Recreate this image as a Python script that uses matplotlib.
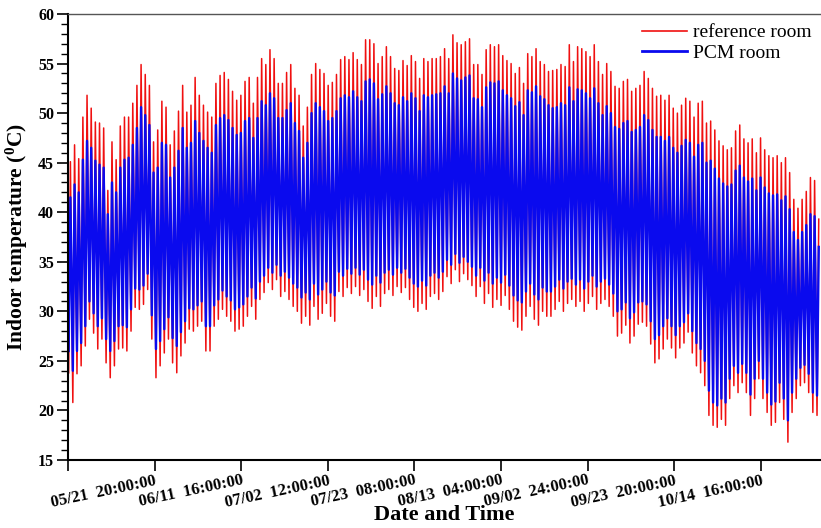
import matplotlib.pyplot as plt
import numpy as np

# daily peaks / troughs (deg C), one value per day from 05/01
ref_max = [45.1, 46.8, 45.4, 49.6, 51.8, 50.5, 49.1, 49.0, 48.5, 42.2,
           47.1, 45.3, 48.7, 49.6, 49.6, 51.0, 52.8, 54.9, 53.9, 52.8,
           47.1, 48.3, 51.2, 50.6, 46.8, 48.2, 50.2, 52.8, 50.1, 50.8,
           53.6, 51.8, 50.8, 50.1, 49.6, 53.0, 53.8, 54.1, 53.4, 52.2,
           51.3, 51.8, 53.2, 53.6, 51.0, 53.6, 55.5, 54.9, 56.4, 55.5,
           53.0,
           53.0, 54.1, 54.9, 52.5, 51.8, 48.7, 50.6, 53.9, 55.0, 54.4,
           54.0, 52.8, 53.1, 53.9, 55.4, 55.7, 55.4, 56.1, 55.4, 54.9,
           57.4, 57.4, 57.0, 55.0, 55.7, 56.7, 55.7, 54.5, 54.3, 55.3,
           54.8, 55.8, 55.2, 53.5, 55.5, 55.2, 55.5, 55.5, 55.7, 56.5,
           55.5, 57.9, 57.1, 56.9, 57.2, 57.5, 54.9, 54.9, 53.9, 56.4,
           56.9, 56.7, 56.9, 55.8, 55.3, 55.0, 54.0, 54.6, 53.0, 56.0,
           55.7, 56.5, 55.2, 54.9, 54.2,
           54.3, 54.4, 54.9, 54.7, 56.9, 55.2, 56.7, 56.5, 56.2, 55.7,
           56.9, 55.2, 53.9, 55.0, 54.2, 52.7, 52.5, 53.2, 53.4, 52.2,
           52.5, 52.8, 54.2, 53.5, 52.5, 51.7, 51.8, 51.3, 51.8, 50.5,
           50.0, 50.8, 51.5, 51.2, 49.6, 51.0, 51.2, 49.0, 49.2, 48.3,
           47.2, 46.7, 46.3, 46.5, 48.2, 48.8, 47.4, 47.0, 47.4, 46.0,
           47.5, 46.3, 45.7, 45.5, 45.7, 45.0, 45.5, 44.0, 41.3, 40.4,
           41.3, 42.1, 43.5, 43.2, 39.3]

ref_min = [23.8, 20.8, 23.7, 24.5, 26.5, 29.2, 27.8, 26.2, 27.2, 24.8,
           23.3, 24.5, 26.2, 26.3, 26.0, 28.0, 30.4, 30.2, 30.7, 32.2,
           27.2, 23.3, 24.5, 25.8, 27.2, 24.8, 23.8, 25.5, 26.8, 28.2,
           28.0, 28.5, 29.0, 26.0, 26.0, 28.5, 29.2, 30.2, 29.5, 29.0,
           28.0, 28.2, 28.5, 29.5, 30.5, 29.2, 31.2, 31.9, 32.9, 32.2,
           33.2,
           31.5, 32.0, 31.2, 30.5, 30.0, 28.8, 29.5, 28.6, 30.5, 29.2,
           29.8, 30.8, 29.5, 29.0, 32.0, 31.5, 32.4, 31.8, 32.5, 31.6,
           32.2, 31.0, 30.3, 31.5, 30.5, 31.8, 32.2, 31.6, 32.5, 31.9,
           32.4, 31.2, 30.4, 30.0, 30.8, 30.2, 31.5, 31.8, 31.2, 32.0,
           33.5, 32.8, 34.2, 33.0, 33.8, 33.2, 32.6, 31.5, 32.5, 30.8,
           31.8, 30.4, 31.2, 30.6, 31.6, 30.2, 29.0, 28.4, 28.1, 29.5,
           30.5, 29.2, 28.6, 30.0, 29.5,
           29.5, 30.2, 31.0, 30.0, 30.8, 31.2, 30.5, 31.0, 30.0, 30.8,
           31.5, 30.2, 30.8, 31.2, 30.5, 29.5, 27.5, 27.8, 28.6, 26.8,
           27.5, 28.7, 28.9, 28.5, 26.7, 24.8, 25.2, 26.2, 27.2, 26.3,
           25.3, 26.3, 26.8, 27.9, 25.8, 24.5, 23.8, 22.5, 19.5, 18.5,
           18.3, 19.1, 18.5, 21.2, 22.5, 21.8, 22.8, 21.8, 19.5, 21.2,
           23.2, 21.2, 19.8, 18.5, 18.8, 20.8, 19.1, 16.8, 19.8, 21.2,
           22.5, 22.8, 21.8, 19.8, 19.5]

pcm_max = [41.5, 42.8, 42.0, 45.3, 47.2, 46.5, 45.2, 44.8, 44.5, 39.8,
           43.0, 42.0, 44.5, 45.3, 45.5, 46.8, 48.5, 50.6, 49.8, 48.8,
           44.0, 44.5, 47.0, 46.8, 43.5, 44.5, 46.2, 48.5, 46.5, 47.0,
           49.2, 48.0, 47.2, 46.5, 46.0, 48.8, 49.5, 49.8, 49.3, 48.5,
           47.8, 48.0, 49.2, 49.5, 47.5, 49.5, 51.2, 50.8, 52.0, 51.5,
           49.5,
           49.5, 50.3, 51.0, 49.0, 48.2, 45.5, 47.0, 50.0, 51.0, 50.6,
           50.2, 49.2, 49.5, 50.2, 51.5, 51.8, 51.6, 52.2, 51.6, 51.2,
           53.2, 53.4, 53.0, 51.4, 51.9, 52.7, 52.0, 51.0, 50.8, 51.6,
           51.2, 52.0, 51.5, 50.2, 51.8, 51.6, 51.8, 51.9, 52.0, 52.7,
           52.0, 54.0, 53.5, 53.3, 53.6, 53.8, 51.5, 51.4, 50.6, 52.6,
           53.1, 53.0, 53.2, 52.3, 51.8, 51.5, 50.7, 51.1, 49.8, 52.3,
           52.1, 52.7, 51.7, 51.4, 50.8,
           50.5, 50.6, 51.0, 50.8, 52.6, 51.2, 52.4, 52.3, 52.0, 51.5,
           52.5, 51.0, 49.8, 50.7, 50.0, 48.6, 48.4, 49.0, 49.2, 48.1,
           48.3, 48.6, 49.8, 49.3, 48.3, 47.6, 47.6, 47.2, 47.6, 46.5,
           46.0, 46.7, 47.3, 47.0, 45.6, 46.8, 47.0, 45.0, 45.2, 44.4,
           43.4, 42.9, 42.6, 42.8, 44.2, 44.7, 43.5, 43.1, 43.4, 42.2,
           43.5, 42.5, 41.9, 41.7, 41.8, 41.2, 41.6, 40.3, 38.0, 37.2,
           38.0, 38.7, 39.8, 39.6, 36.5]

pcm_min = [26.0, 24.0, 26.0, 26.8, 28.5, 31.0, 29.8, 28.5, 29.3, 27.2,
           26.0, 27.0, 28.5, 28.6, 28.4, 30.2, 32.3, 32.2, 32.6, 33.8,
           29.6, 26.2, 27.0, 28.2, 29.4, 27.3, 26.5, 27.9, 29.0, 30.3,
           30.2, 30.6, 31.0, 28.5, 28.5, 30.6, 31.2, 32.1, 31.5, 31.1,
           30.2, 30.4, 30.7, 31.5, 32.4, 31.3, 33.0, 33.6, 34.4, 33.9,
           34.7,
           33.6, 34.0, 33.4, 32.8, 32.4, 31.4, 31.9, 31.2, 32.8, 31.7,
           32.2, 33.0, 31.9, 31.6, 34.0, 33.6, 34.3, 33.8, 34.4, 33.7,
           34.2, 33.2, 32.7, 33.6, 32.9, 33.9, 34.2, 33.7, 34.4, 33.9,
           34.3, 33.4, 32.8, 32.5, 33.1, 32.6, 33.6, 33.9, 33.4, 34.0,
           35.2, 34.7, 35.8, 34.9, 35.5, 35.0, 34.5, 33.6, 34.4, 33.1,
           33.9, 32.8, 33.4, 32.9, 33.7, 32.6, 31.6, 31.1, 30.9, 32.0,
           32.8, 31.7, 31.2, 32.4, 32.0,
           32.0, 32.5, 33.2, 32.3, 33.0, 33.3, 32.7, 33.2, 32.3, 33.0,
           33.6, 32.5, 33.0, 33.3, 32.7, 31.8, 30.0, 30.2, 30.9, 29.3,
           29.9, 30.9, 31.0, 30.7, 29.0, 27.2, 27.6, 28.5, 29.3, 28.5,
           27.6, 28.5, 28.9, 29.8, 28.0, 26.8, 26.2, 25.0, 22.0, 20.8,
           20.5, 21.2, 20.8, 23.2, 24.5, 23.8, 24.7, 23.8, 21.6, 23.2,
           25.0, 23.2, 21.8, 20.6, 20.9, 22.8, 21.2, 19.0, 21.8, 23.2,
           24.3, 24.6, 23.7, 21.8, 21.5]

tick_hours = [0, 500, 1000, 1500, 2000, 2500, 3000, 3500, 4000]
tick_labels = ["", "05/21  20:00:00", "06/11  16:00:00", "07/02  12:00:00",
               "07/23  08:00:00", "08/13  04:00:00", "09/02  24:00:00",
               "09/23  20:00:00", "10/14  16:00:00"]

plt.rcParams['font.family'] = ['Liberation Serif', 'DejaVu Serif']
plt.rcParams['mathtext.fontset'] = 'custom'
plt.rcParams['mathtext.rm'] = 'Liberation Serif:bold'
plt.rcParams['mathtext.bf'] = 'Liberation Serif:bold'
plt.rcParams['mathtext.it'] = 'Liberation Serif:bold:italic'


def daily_path(lows, highs):
    # trough early morning, peak mid afternoon of each day
    start = np.arange(len(lows)) * 24
    x = np.column_stack([start + 4, start + 14]).ravel()
    y = np.column_stack([lows, highs]).ravel()
    return x, y


fig = plt.figure(figsize=(8.21, 5.28), dpi=100)
ax = fig.add_axes([0.0828, 0.1288, 0.9172, 0.8447])

x, y = daily_path(ref_min, ref_max)
ax.plot(x, y, color='#f01010', lw=1.1, label='reference room')
x, y = daily_path(pcm_min, pcm_max)
ax.plot(x, y, color='#0a0aee', lw=1.7, label='PCM room')

ax.set_xlim(0, 4347)
ax.set_ylim(15, 60)
ax.set_xticks(tick_hours)
ax.set_xticklabels(tick_labels, rotation=12, ha='right', va='top',
                   rotation_mode='anchor', fontsize=12, fontweight='bold')
ax.set_yticks(range(15, 61, 5))
ax.set_yticks(range(15, 61), minor=True)
for lab in ax.get_yticklabels():
    lab.set_fontsize(11.5)
    lab.set_fontweight('bold')

ax.tick_params(axis='x', direction='out', length=8, width=1.2, pad=1)
ax.tick_params(axis='y', which='major', direction='out', length=8, width=1.2, pad=2)
ax.tick_params(axis='y', which='minor', direction='out', length=5, width=1.0)

ax.spines['right'].set_visible(False)
ax.spines['top'].set_color('#555555')
ax.spines['top'].set_linewidth(1.0)
ax.spines['left'].set_linewidth(1.5)
ax.spines['bottom'].set_linewidth(1.5)

ax.set_xlabel('Date and Time', fontsize=16, fontweight='bold')
ax.xaxis.set_label_coords(0.5, -0.1)
ax.set_ylabel(r'Indoor temperature ($^{0}$C)', fontsize=15.5,
              fontweight='bold', labelpad=6)

leg = ax.legend(loc='upper right', frameon=False, fontsize=14,
                handlelength=2.3, handletextpad=0.3, labelspacing=0.15,
                borderaxespad=0.1)
leg.get_lines()[0].set_linewidth(1.2)
leg.get_lines()[1].set_linewidth(2.0)

fig.savefig('out.png', dpi=100)
